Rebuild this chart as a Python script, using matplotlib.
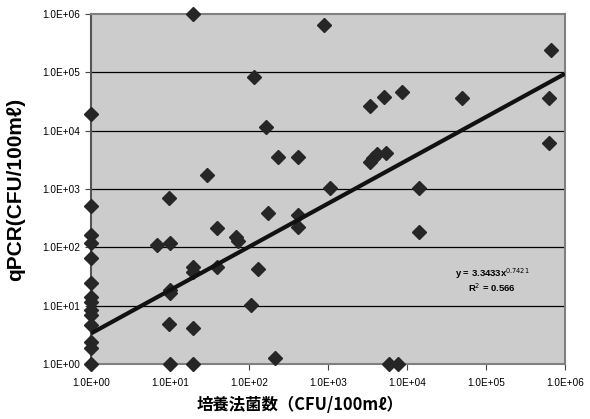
import matplotlib
matplotlib.use("Agg")
import matplotlib.pyplot as plt
import numpy as np

# culture count (x) vs qPCR (y)
culture = [1, 1, 1, 1, 1, 1, 1, 1, 1, 1, 1, 1, 1, 1,
           6.8, 10, 9.7, 29.5, 19.5, 39, 68, 72, 19.5, 19.5, 39,
           10, 10, 105, 9.8, 19.5, 10, 19.5, 213, 131, 174, 417, 417,
           116, 164, 234, 420, 1060, 890,
           3400, 5100, 8700, 3400, 3700, 4200, 5500, 14000, 14000,
           50000, 660000, 630000, 630000, 6000, 7700]
qpcr = [19000, 510, 163, 118, 66, 24.5, 14, 11.6, 8.5, 6.9, 4.7, 2.4, 1.9, 1,
        110, 120, 705, 1740, 1000000, 215, 150, 130, 46, 38, 46,
        18.6, 16.5, 10.2, 4.9, 4.2, 1, 1, 1.27, 43, 390, 360, 225,
        84000, 11700, 3550, 3550, 1050, 650000,
        27000, 38000, 46000, 2900, 3400, 4000, 4100, 1050, 183,
        36000, 240000, 37000, 6200, 1, 1]

# power trend line shown on the chart
coef_a = 3.3433
coef_b = 0.7421
r_squared = 0.566

decades = [1e0, 1e1, 1e2, 1e3, 1e4, 1e5, 1e6]
tick_labels = ["1.0E+00", "1.0E+01", "1.0E+02", "1.0E+03",
               "1.0E+04", "1.0E+05", "1.0E+06"]

plt.rcParams['font.family'] = ['Liberation Sans', 'DejaVu Sans']

fig = plt.figure(figsize=(5.9, 4.19), dpi=100)
ax = fig.add_axes([91 / 590, 1 - 364 / 419, 474 / 590, 350 / 419])
ax.set_facecolor("#cccccc")

ax.set_xscale("log")
ax.set_yscale("log")
ax.set_xlim(1, 1e6)
ax.set_ylim(1, 1e6)

for d in decades[1:-1]:
    ax.axhline(d, color="black", linewidth=0.9, zorder=1)

ax.plot(culture, qpcr, linestyle="none", marker="D", markersize=7,
        color="#262626", clip_on=False, zorder=3)

xs = np.array([1, 1e6])
ax.plot(xs, coef_a * xs ** coef_b, color="#111111", linewidth=3.0,
        solid_capstyle="butt", zorder=4)

ax.text(0.846, 0.257, "y = %.4fx$^{%.4f}$" % (coef_a, coef_b),
        transform=ax.transAxes, ha="center", va="center",
        fontsize=6.8, fontweight="bold")
ax.text(0.846, 0.217, "R$^{2}$ = %.3f" % r_squared,
        transform=ax.transAxes, ha="center", va="center",
        fontsize=6.8, fontweight="bold")

ax.set_xticks(decades)
ax.set_xticklabels(tick_labels)
ax.set_yticks(decades)
ax.set_yticklabels(tick_labels)
ax.minorticks_off()
ax.tick_params(axis="both", labelsize=7.2, length=4, width=0.8,
               color="#444444", direction="out")
ax.tick_params(axis="x", pad=6)
ax.tick_params(axis="y", pad=4)

for side in ["top", "right", "bottom"]:
    ax.spines[side].set_color("#808080")
    ax.spines[side].set_linewidth(1.5)
ax.spines["left"].set_color("#555555")
ax.spines["left"].set_linewidth(1.5)

fig.text(16 / 590, 1 - 189 / 419, "qPCR(CFU/100mℓ)", rotation=90,
         ha="center", va="center", fontsize=15, fontweight="bold")
fig.text(300 / 590, 1 - 405 / 419, "培養法菌数（CFU/100mℓ）",
         ha="center", va="center", fontsize=11.8, fontweight="bold",
         family=["Noto Sans CJK JP", "DejaVu Sans"])

fig.savefig("out.png", dpi=100)
